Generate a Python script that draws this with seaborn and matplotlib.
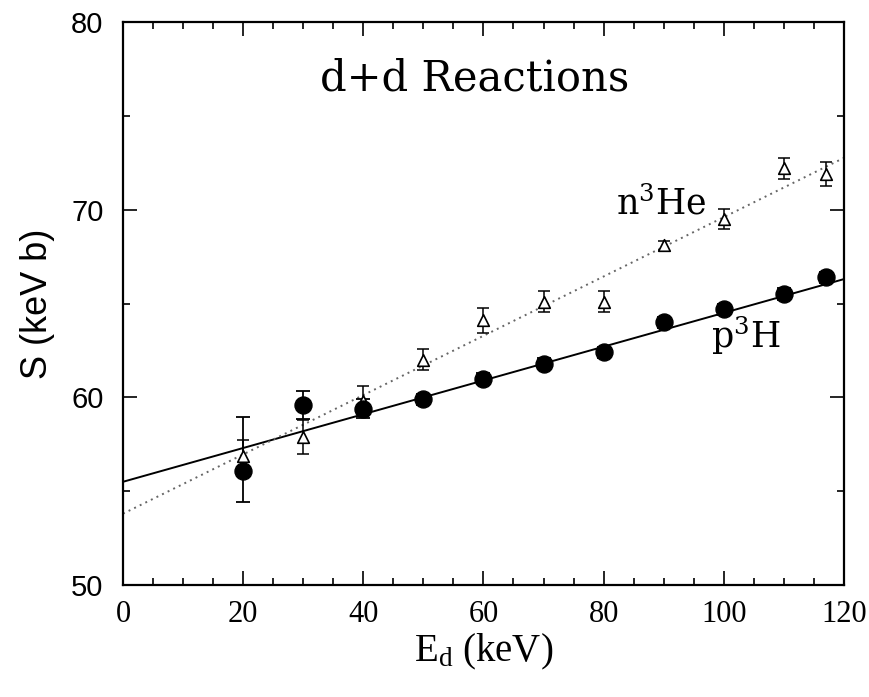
import numpy as np
import pandas as pd
import matplotlib
matplotlib.use("Agg")
import matplotlib.pyplot as plt
import seaborn as sns
from matplotlib.ticker import MultipleLocator

# ---- data ----
energy_p3h = [20, 30, 40, 50, 60, 70, 80, 90, 100, 110, 117]
s_p3h = [56.1, 59.6, 59.4, 59.9, 61.0, 61.8, 62.4, 64.0, 64.7, 65.5, 66.4]
err_p3h_low = [1.7, 0.75, 0.5, 0.3, 0.3, 0.3, 0.3, 0.3, 0.3, 0.3, 0.3]
err_p3h_high = [2.85, 0.75, 0.5, 0.3, 0.3, 0.3, 0.3, 0.3, 0.3, 0.3, 0.3]

energy_n3he = [20, 30, 40, 50, 60, 70, 80, 90, 100, 110, 117]
s_n3he = [56.9, 57.9, 59.8, 62.0, 64.1, 65.1, 65.1, 68.1, 69.5, 72.2, 71.9]
err_n3he = [0.8, 0.9, 0.8, 0.55, 0.65, 0.55, 0.55, 0.25, 0.55, 0.55, 0.65]

fit_range = [0, 120]
fit_p3h = (55.5, 0.090)   # intercept, slope
fit_n3he = (53.8, 0.158)

x_ticks = [0, 20, 40, 60, 80, 100, 120]
y_ticks = [50, 60, 70, 80]

sns.set_theme(style="ticks")
plt.rcParams["font.family"] = ["Liberation Serif", "DejaVu Serif"]
plt.rcParams["mathtext.fontset"] = "custom"
plt.rcParams["mathtext.rm"] = "Liberation Serif"
plt.rcParams["mathtext.it"] = "Liberation Serif"
for key in ["text.color", "axes.labelcolor", "xtick.color", "ytick.color",
            "axes.edgecolor"]:
    plt.rcParams[key] = "black"

fig = plt.figure(figsize=(8.7, 6.97), dpi=100)
ax = fig.add_axes([0.1414, 0.1607, 0.8286, 0.8077])

df_p = pd.DataFrame({"E": energy_p3h, "S": s_p3h})
df_n = pd.DataFrame({"E": energy_n3he, "S": s_n3he})

xf = np.array(fit_range, dtype=float)
df_fp = pd.DataFrame({"E": xf, "S": fit_p3h[0] + fit_p3h[1] * xf})
df_fn = pd.DataFrame({"E": xf, "S": fit_n3he[0] + fit_n3he[1] * xf})

sns.lineplot(data=df_fp, x="E", y="S", ax=ax, color="black", lw=1.4, zorder=2)
sns.lineplot(data=df_fn, x="E", y="S", ax=ax, color="#666666", lw=1.4,
             linestyle=(0, (1, 2.2)), zorder=2)

ax.errorbar(energy_p3h, s_p3h, yerr=[err_p3h_low, err_p3h_high], fmt="none",
            ecolor="black", elinewidth=1.3, capsize=5, capthick=1.3, zorder=3)
ax.errorbar(energy_n3he, s_n3he, yerr=err_n3he, fmt="none", ecolor="black",
            elinewidth=1.1, capsize=4, capthick=1.1, zorder=3)

sns.scatterplot(data=df_n, x="E", y="S", ax=ax, marker="^", s=70,
                facecolor="white", edgecolor="black", linewidth=1.2, zorder=4)
sns.scatterplot(data=df_p, x="E", y="S", ax=ax, marker="o", s=150,
                color="black", edgecolor="black", zorder=5)

ax.set_xlim(0, 120)
ax.set_ylim(50, 80)
ax.set_xticks(x_ticks)
ax.set_yticks(y_ticks)
ax.xaxis.set_minor_locator(MultipleLocator(5))
ax.yaxis.set_minor_locator(MultipleLocator(5))
ax.tick_params(which="both", direction="in", top=True, right=True, width=1.2,
               color="black")
ax.tick_params(which="major", length=10)
ax.tick_params(which="minor", length=5)
ax.tick_params(axis="x", which="major", labelsize=22, pad=11)
ax.tick_params(axis="y", which="major", labelsize=21, pad=14)
for lab in ax.get_yticklabels():
    lab.set_family(["Liberation Sans", "DejaVu Sans"])
for sp in ax.spines.values():
    sp.set_linewidth(1.6)
    sp.set_color("black")

ax.set_xlabel(r"E$_{\rm d}$ (keV)", fontsize=28, labelpad=2)
ax.set_ylabel("S (keV b)", fontsize=26, labelpad=12,
              family=["Liberation Sans", "DejaVu Sans"])

ax.text(58.5, 77.0, "d+d Reactions", fontsize=30, ha="center", va="center",
        family=["DejaVu Serif"])
ax.text(82.0, 69.75, r"n$^{3}$He", fontsize=25, ha="left", va="baseline",
        family=["DejaVu Serif"], math_fontfamily="dejavuserif")
ax.text(97.8, 62.64, r"p$^{3}$H", fontsize=25, ha="left", va="baseline",
        family=["DejaVu Serif"], math_fontfamily="dejavuserif")

fig.savefig("out.png", dpi=100)
